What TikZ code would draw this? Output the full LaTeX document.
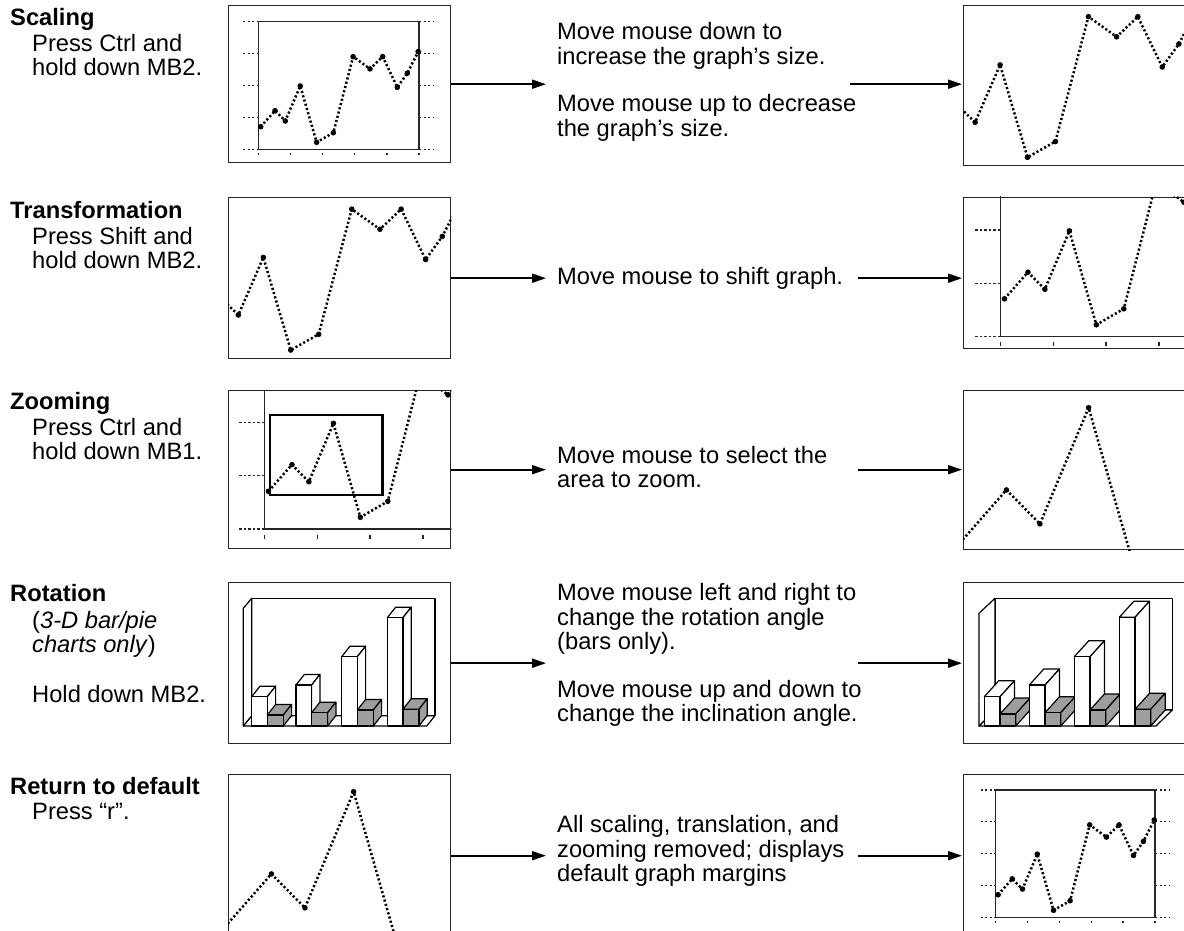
\documentclass[tikz,border=0pt]{standalone}
\usepackage{fontspec}
\setmainfont{Liberation Sans}
\usetikzlibrary{arrows.meta}

\newcommand\labelsize{\fontsize{23.7pt}{24.5pt}\selectfont}

\tikzset{
  panel/.style={draw=black!85, line width=1.4pt, fill=white, inner sep=0pt, anchor=north west},
  frame/.style={draw=black!85, line width=1.3pt},
  trace/.style={line width=2.5pt, dash pattern=on 2.1pt off 2.3pt},
  tickdots/.style={line width=1.3pt, dash pattern=on 2.2pt off 2.3pt, black!85},
  tickmark/.style={line width=1.4pt, black!85},
  zoombox/.style={draw, line width=2.6pt},
  wall/.style={draw, line width=1.2pt, fill=white, line join=round},
  flow/.style={line width=1.8pt, -{Triangle[length=14pt,width=9pt]}},
  head/.style={anchor=base west, inner sep=0pt, font=\labelsize\bfseries},
  desc/.style={anchor=base west, inner sep=0pt, align=left, font=\labelsize},
  howto/.style={anchor=west, inner sep=0pt, align=left, font=\labelsize},
}

% the plotted graph in its own unit square
\newcommand\fullgraph{%
  \draw[frame] (0,0) rectangle (1,1);
  \foreach \v in {0,0.25,0.5,0.75,1} {
    \draw[tickdots] (-0.095,\v) -- (0,\v);
    \draw[tickdots] (1,\v) -- (1.09,\v);
  }
  \foreach \u in {0,0.2,0.4,0.6,0.8,1}
    \draw[tickmark] (\u,-0.028) -- (\u,-0.045);
  \draw[trace] (0.015,0.177) -- (0.104,0.302) -- (0.168,0.222) -- (0.261,0.496)
    -- (0.363,0.055) -- (0.467,0.130) -- (0.590,0.726) -- (0.695,0.630)
    -- (0.774,0.726) -- (0.865,0.486) -- (0.927,0.596) -- (0.995,0.765);
  \foreach \u/\v in {0.015/0.177, 0.104/0.302, 0.168/0.222, 0.261/0.496,
      0.363/0.055, 0.467/0.130, 0.590/0.726, 0.695/0.630, 0.774/0.726,
      0.865/0.486, 0.927/0.596, 0.995/0.765}
    \fill (\u,\v) circle[radius=2.8pt];
}

% one 3-D bar: left x, top y, width, depth x, depth y, fill
\newcommand\barblock[6]{%
  \filldraw[wall, fill=#6] (#1,#2) -- ++(#4,-#5) -- ++(#3,0) -- (#1+#3,#2) -- cycle;
  \filldraw[wall, fill=#6] (#1+#3,#2) -- ++(#4,-#5) -- (#1+#3+#4,726-#5) -- (#1+#3,726) -- cycle;
  \filldraw[wall, fill=#6] (#1,#2) rectangle (#1+#3,726);
}

\begin{document}
\begin{tikzpicture}[x=1pt, y=-1pt]
  \useasboundingbox (0,0) rectangle (1184,931);

  % Left column
  \node[head] (h1) at (10,26) {Scaling};
  \node[desc] (d1) at (32,76) {Press Ctrl and\\hold down MB2.};
  \node[head] (h2) at (10,218.5) {Transformation};
  \node[desc] (d2) at (32,268.5) {Press Shift and\\hold down MB2.};
  \node[head] (h3) at (10,409.5) {Zooming};
  \node[desc] (d3) at (32,459.5) {Press Ctrl and\\hold down MB1.};
  \node[head] (h4) at (10,601.5) {Rotation};
  \node[desc] (d4) at (32,702) {(\textit{3-D bar/pie}\\\textit{charts only})\\[25pt]Hold down MB2.};
  \node[head] (h5) at (10,794) {Return to default};
  \node[desc] (d5) at (32,819) {Press “r”.};

  % Panels
  \node[panel, minimum width=222pt, minimum height=157pt] (p1a) at (228,5) {};
  \node[panel, minimum width=240pt, minimum height=160pt] (p1b) at (963,5) {};
  \node[panel, minimum width=222pt, minimum height=161pt] (p2a) at (228,197) {};
  \node[panel, minimum width=240pt, minimum height=151pt] (p2b) at (963,197) {};
  \node[panel, minimum width=222pt, minimum height=158pt] (p3a) at (228,390) {};
  \node[panel, minimum width=240pt, minimum height=159pt] (p3b) at (963,390) {};
  \node[panel, minimum width=222pt, minimum height=161pt] (p4a) at (228,582) {};
  \node[panel, minimum width=240pt, minimum height=161pt] (p4b) at (963,582) {};
  \node[panel, minimum width=222pt, minimum height=162pt] (p5a) at (228,774) {};
  \node[panel, minimum width=240pt, minimum height=162pt] (p5b) at (963,774) {};

  % Graphs inside the panels
  \begin{scope}
    \clip (p1a.south west) rectangle (p1a.north east);
    \begin{scope}[shift={(258.3,149.3)}, x=160.7pt, y=127.6pt] \fullgraph \end{scope}
  \end{scope}
  \begin{scope}
    \clip (p1b.south west) rectangle (p1b.north east);
    \begin{scope}[shift={(930,168.8)}, x=268.5pt, y=209.5pt] \fullgraph \end{scope}
  \end{scope}
  \begin{scope}
    \clip (p2a.south west) rectangle (p2a.north east);
    \begin{scope}[shift={(193.2,361.6)}, x=268.7pt, y=210pt] \fullgraph \end{scope}
  \end{scope}
  \begin{scope}
    \clip (p2b.south west) rectangle (p2b.north east);
    \begin{scope}[shift={(1000.5,336.5)}, x=264pt, y=213pt] \fullgraph \end{scope}
  \end{scope}
  \begin{scope}
    \clip (p3a.south west) rectangle (p3a.north east);
    \begin{scope}[shift={(264.5,529)}, x=264pt, y=213pt] \fullgraph \end{scope}
  \end{scope}
  \draw[zoombox] (270,415) rectangle (382.7,495);
  \begin{scope}
    \clip (p3b.south west) rectangle (p3b.north east);
    \begin{scope}[shift={(952,618)}, x=523.4pt, y=424pt] \fullgraph \end{scope}
  \end{scope}
  \begin{scope}
    \clip (p5a.south west) rectangle (p5a.north east);
    \begin{scope}[shift={(217,1002)}, x=523.4pt, y=424pt] \fullgraph \end{scope}
  \end{scope}
  \begin{scope}
    \clip (p5b.south west) rectangle (p5b.north east);
    \begin{scope}[shift={(995.7,917.3)}, x=159.3pt, y=127.3pt] \fullgraph \end{scope}
  \end{scope}

  % 3-D bar charts
  \filldraw[wall] (251.7,598.3) rectangle (435,715.7);
  \filldraw[wall] (243.3,726) -- (426.7,726) -- (435,715.7) -- (251.7,715.7) -- cycle;
  \filldraw[wall] (243.3,726) -- (243.3,608.3) -- (251.7,598.3) -- (251.7,715.7) -- cycle;
  \foreach \bx/\wt/\gt in {251.7/696.7/715, 296/685/712.7, 341.7/656.7/710, 387.3/617.7/709.3} {
    \barblock{\bx}{\wt}{15.6}{8.3}{10.5}{white}
    \barblock{\bx+15.6}{\gt}{16}{8.3}{10.5}{black!38}
  }
  \filldraw[wall] (995,598.3) rectangle (1172.3,710);
  \filldraw[wall] (979,726) -- (1156,726) -- (1172.3,710) -- (995,710) -- cycle;
  \filldraw[wall] (979,726) -- (979,613.3) -- (995,598.3) -- (995,710) -- cycle;
  \foreach \bx/\wt/\gt in {984.3/696.7/714, 1029.3/685/712.7, 1074.3/656.7/710, 1119.3/617.3/709.3} {
    \barblock{\bx}{\wt}{15.7}{14.5}{16}{white}
    \barblock{\bx+15.7}{\gt}{15.7}{14.5}{16}{black!38}
  }

  % Middle column
  \node[howto] (t1) at (557,82) {Move mouse down to\\increase the graph’s size.\\[23pt]Move mouse up to decrease\\the graph’s size.};
  \node[howto] (t2) at (557,278) {Move mouse to shift graph.};
  \node[howto] (t3) at (557,467) {Move mouse to select the\\area to zoom.};
  \node[howto] (t4) at (557,655) {Move mouse left and right to\\change the rotation angle\\(bars only).\\[23pt]Move mouse up and down to\\change the inclination angle.};
  \node[howto] (t5) at (557,851) {All scaling, translation, and\\zooming removed; displays\\default graph margins};

  % Arrows
  \coordinate (q1) at (850,0 |- p1a.east);
  \coordinate (q2) at (858,0 |- p2a.east);
  \coordinate (q3) at (858,0 |- p3a.east);
  \coordinate (q4) at (858,0 |- p4a.east);
  \coordinate (q5) at (858,0 |- p5a.east);
  \draw[flow, shorten >=11pt] (p1a.east) -- (p1a.east -| t1.west);
  \draw[flow, shorten >=11pt] (p2a.east) -- (p2a.east -| t2.west);
  \draw[flow, shorten >=11pt] (p3a.east) -- (p3a.east -| t3.west);
  \draw[flow, shorten >=11pt] (p4a.east) -- (p4a.east -| t4.west);
  \draw[flow, shorten >=11pt] (p5a.east) -- (p5a.east -| t5.west);
  \draw[flow, shorten >=1pt] (q1) -- (q1 -| p1b.west);
  \draw[flow, shorten >=1pt] (q2) -- (q2 -| p2b.west);
  \draw[flow, shorten >=1pt] (q3) -- (q3 -| p3b.west);
  \draw[flow, shorten >=1pt] (q4) -- (q4 -| p4b.west);
  \draw[flow, shorten >=1pt] (q5) -- (q5 -| p5b.west);
\end{tikzpicture}
\end{document}
